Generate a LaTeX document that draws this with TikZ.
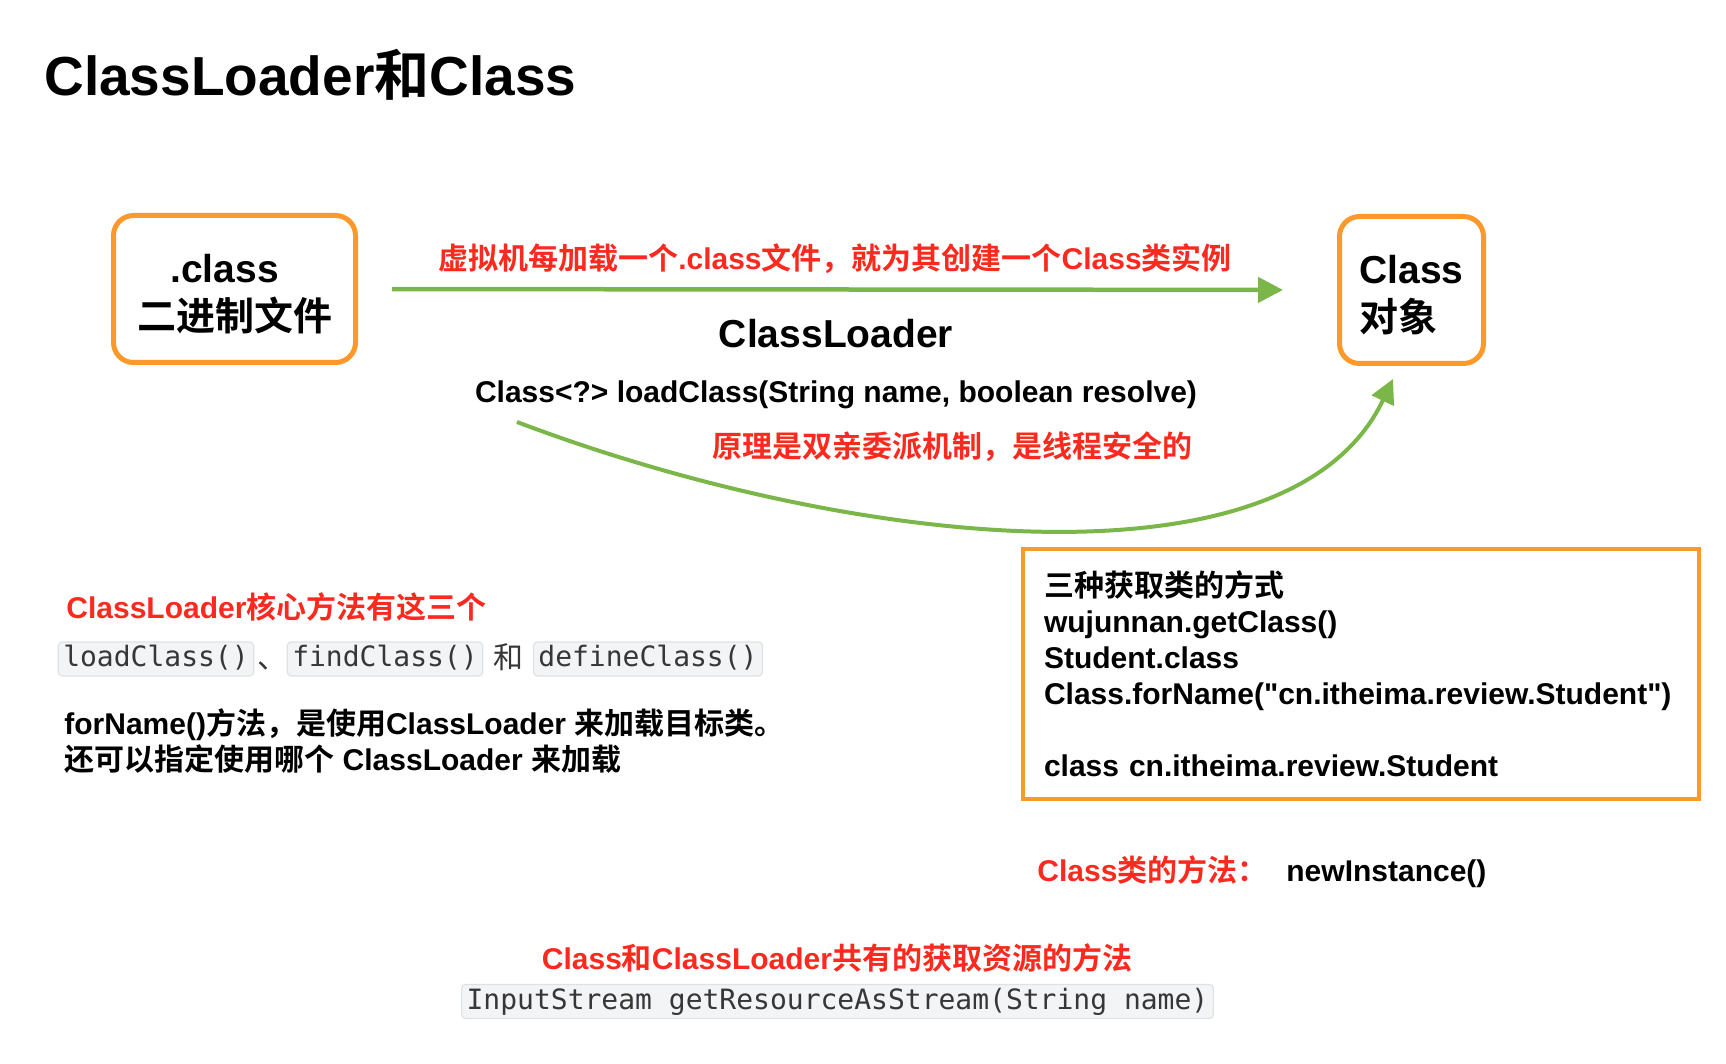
\documentclass[tikz,border=0pt]{standalone}
\usepackage{fontspec}
\setmainfont{Liberation Sans}[Ligatures=TeXOff]
\setmonofont{DejaVu Sans Mono}
\newfontfamily\cjk{Noto Sans CJK SC}[BoldFont={Noto Sans CJK SC Bold}]
\usetikzlibrary{arrows.meta}
\definecolor{boxorange}{RGB}{253,152,42}
\definecolor{loadgreen}{RGB}{122,183,72}
\definecolor{notered}{RGB}{252,42,30}
\definecolor{codebg}{RGB}{243,244,245}
\definecolor{codeframe}{RGB}{222,226,228}
\definecolor{codeink}{RGB}{55,55,55}
\newcommand{\zh}[1]{{\cjk #1}}
\newcommand{\fs}[2]{\fontsize{#1}{#2}\selectfont}

\begin{document}
\begin{tikzpicture}[x=0.5pt, y=-0.5pt, font=\bfseries,
  filebox/.style={draw=boxorange, line width=2.5pt, rounded corners=10pt, minimum height=73.5pt, inner sep=0pt, font=\bfseries\fs{19.5}{24}},
  rednote/.style={text=notered, inner sep=0pt, font=\bfseries\fs{15}{18}},
  blacktext/.style={inner sep=0pt, font=\bfseries\fs{15}{18}},
  codebox/.style={fill=codebg, draw=codeframe, line width=0.6pt, rounded corners=2pt, text=codeink, font=\ttfamily\mdseries\fs{14}{17}, inner xsep=2.5pt, inner ysep=0pt, minimum height=17pt, text height=10.5pt, text depth=3pt},
  loadline/.style={draw=loadgreen, line width=2.25pt, -{Triangle[length=12.5pt, width=12.5pt]}}]
\useasboundingbox (0,0) rectangle (1726,1064);
% title
\node[anchor=base west, inner sep=0pt, font=\bfseries\fs{27.5}{33}] (title) at (44,96) {ClassLoader\zh{和}Class};
% the two boxes and the loading arrow
\node[filebox, minimum width=121pt, align=center] (dotclass) at (234.5,289) {\rule{0pt}{19pt}.class\kern10pt\\\zh{二进制文件}};
\node[filebox, minimum width=72pt, align=left] (classobj) at (1411.5,290) {\rule{0pt}{19pt}Class\\\zh{对象}};
\draw[loadline, shorten <=17pt, shorten >=27pt] (dotclass.east) -- (classobj.west);
\node[rednote, anchor=base] (loadnote) at (835,270) {\zh{虚拟机每加载一个}.class\zh{文件，就为其创建一个}Class\zh{类实例}};
\node[anchor=base, inner sep=0pt, font=\bfseries\fs{19.5}{24}] (loadername) at (836,348) {ClassLoader};
\node[blacktext, anchor=base] (loadsig) at (836,403) {Class<?> loadClass(String name, boolean resolve)};
\node[rednote, anchor=base] (safenote) at (952,458) {\zh{原理是双亲委派机制，是线程安全的}};
% curved arrow back up to the Class object
\coordinate (bendstart) at (517,422);
\coordinate (bendend) at (1393,379);
\draw[loadline, line width=2pt, -{Triangle[length=12pt, width=12pt]}] (bendstart) .. controls (850,548) and (1290,596) .. (bendend);
% core methods
\node[rednote, anchor=base west] (corenote) at (66,618) {ClassLoader\zh{核心方法有这三个}};
\node[codebox] (loadclass) at (156,659) {loadClass()};
\node[anchor=base west, inner sep=0pt, text=codeink, font=\cjk\mdseries\fs{15}{18}] (dunhao) at (257,668) {、};
\node[codebox] (findclass) at (385,659) {findClass()};
\node[anchor=base, inner sep=0pt, text=codeink, font=\cjk\mdseries\fs{15}{18}] (he) at (508,668) {和};
\node[codebox] (defineclass) at (648,659) {defineClass()};
\node[blacktext, anchor=base west] (fornameA) at (64,734) {forName()\zh{方法，是使用}ClassLoader \zh{来加载目标类。}};
\node[blacktext, anchor=base west] (fornameB) at (64,770) {\zh{还可以指定使用哪个} ClassLoader \zh{来加载}};
% three ways to get a class
\node[draw=boxorange, line width=2pt, minimum width=338pt, minimum height=125pt, inner sep=0pt, text width=317pt, align=left, font=\bfseries\fs{15}{18}] (ways) at (1361,674)
  {\zh{三种获取类的方式}\\wujunnan.getClass()\\Student.class\\Class.forName("cn.itheima.review.Student")\\[18pt]class cn.itheima.review.Student};
\node[rednote, anchor=base west] (methodnote) at (1037,881) {Class\zh{类的方法：}};
\node[blacktext, anchor=base west] (newinst) at (1286,881) {newInstance()};
% shared resource method
\node[rednote, anchor=base] (sharednote) at (837,969) {Class\zh{和}ClassLoader\zh{共有的获取资源的方法}};
\node[codebox] (resstream) at (837.5,1001.5) {InputStream getResourceAsStream(String name)};
\end{tikzpicture}
\end{document}
